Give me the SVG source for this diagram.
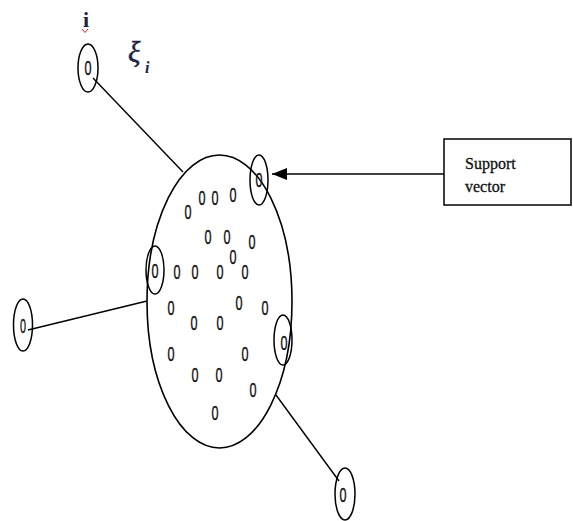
<svg xmlns="http://www.w3.org/2000/svg" width="573" height="521" viewBox="0 0 573 521">
  <defs>
    <marker id="arrowHead" markerWidth="16" markerHeight="12" refX="15" refY="6" orient="auto" markerUnits="userSpaceOnUse">
      <path d="M0,0 L15,6 L0,12 z" fill="#000"/>
    </marker>
  </defs>
  <style>
    .edge { stroke: #000; stroke-width: 1.4; fill: none; }
    .ring { fill: none; stroke: #000; stroke-width: 1.5; }
    .cluster { fill: #fff; stroke: #000; stroke-width: 1.6; }
    .pt { font-family: "Liberation Sans", Arial, sans-serif; font-size: 20px; text-anchor: middle; fill: #111; stroke: #111; stroke-width: 0.35; }
    .label { font-family: "Liberation Serif", "Times New Roman", serif; fill: #111; }
    .math { font-family: "Liberation Serif", "Times New Roman", serif; font-style: italic; fill: #1c1f4a; }
    .box { fill: #fff; stroke: #000; stroke-width: 1.5; }
  </style>

  <rect width="573" height="521" fill="#fff"/>

  <!-- labels -->
  <text x="86" y="27" class="label" style="font-size:22px;font-weight:bold;fill:#1c1f4a" text-anchor="middle">i</text>
  <path d="M82,29 L85,32.5 L88,29" fill="none" stroke="#e02020" stroke-width="1"/>
  <text x="128" y="62" class="math" style="font-size:29px;stroke:#1c1f4a;stroke-width:0.5">ξ</text>
  <text x="145" y="73" class="math" style="font-size:16px;font-weight:bold">i</text>

  <!-- connectors -->
  <g id="connectors">
    <line class="edge" x1="93" y1="78" x2="183" y2="172"/>
    <line class="edge" x1="28" y1="330" x2="147" y2="301"/>
    <line class="edge" x1="276" y1="395" x2="339" y2="481"/>
    <line class="edge" x1="444" y1="174" x2="272" y2="174" marker-end="url(#arrowHead)"/>
  </g>

  <!-- main cluster of points -->
  <g id="cluster">
    <ellipse class="cluster" cx="219.5" cy="301.5" rx="72.5" ry="146.5"/>
    <text class="pt" x="188" y="219" textLength="7" lengthAdjust="spacingAndGlyphs">0</text>
    <text class="pt" x="202" y="205" textLength="7" lengthAdjust="spacingAndGlyphs">0</text>
    <text class="pt" x="215" y="205" textLength="7" lengthAdjust="spacingAndGlyphs">0</text>
    <text class="pt" x="233" y="202" textLength="7" lengthAdjust="spacingAndGlyphs">0</text>
    <text class="pt" x="208" y="244" textLength="7" lengthAdjust="spacingAndGlyphs">0</text>
    <text class="pt" x="227" y="244" textLength="7" lengthAdjust="spacingAndGlyphs">0</text>
    <text class="pt" x="252" y="249" textLength="7" lengthAdjust="spacingAndGlyphs">0</text>
    <text class="pt" x="233" y="264" textLength="7" lengthAdjust="spacingAndGlyphs">0</text>
    <text class="pt" x="177" y="279" textLength="7" lengthAdjust="spacingAndGlyphs">0</text>
    <text class="pt" x="195" y="279" textLength="7" lengthAdjust="spacingAndGlyphs">0</text>
    <text class="pt" x="220" y="279" textLength="7" lengthAdjust="spacingAndGlyphs">0</text>
    <text class="pt" x="245" y="279" textLength="7" lengthAdjust="spacingAndGlyphs">0</text>
    <text class="pt" x="171" y="315" textLength="7" lengthAdjust="spacingAndGlyphs">0</text>
    <text class="pt" x="239" y="310" textLength="7" lengthAdjust="spacingAndGlyphs">0</text>
    <text class="pt" x="265" y="315" textLength="7" lengthAdjust="spacingAndGlyphs">0</text>
    <text class="pt" x="194" y="330" textLength="7" lengthAdjust="spacingAndGlyphs">0</text>
    <text class="pt" x="220" y="330" textLength="7" lengthAdjust="spacingAndGlyphs">0</text>
    <text class="pt" x="171" y="361" textLength="7" lengthAdjust="spacingAndGlyphs">0</text>
    <text class="pt" x="245" y="361" textLength="7" lengthAdjust="spacingAndGlyphs">0</text>
    <text class="pt" x="195" y="382" textLength="7" lengthAdjust="spacingAndGlyphs">0</text>
    <text class="pt" x="219" y="382" textLength="7" lengthAdjust="spacingAndGlyphs">0</text>
    <text class="pt" x="253" y="397" textLength="7" lengthAdjust="spacingAndGlyphs">0</text>
    <text class="pt" x="215" y="420" textLength="7" lengthAdjust="spacingAndGlyphs">0</text>
  </g>

  <!-- circled points -->
  <g id="nodeTopLeft">
    <ellipse class="ring" cx="88" cy="68" rx="10" ry="24"/>
    <text class="pt" x="88" y="75" textLength="7" lengthAdjust="spacingAndGlyphs">0</text>
  </g>
  <g id="nodeSupportTop">
    <ellipse class="ring" cx="259" cy="180" rx="9" ry="25"/>
    <text class="pt" x="259" y="187" textLength="7" lengthAdjust="spacingAndGlyphs">0</text>
  </g>
  <g id="nodeSupportLeft">
    <ellipse class="ring" cx="155" cy="270" rx="9" ry="24"/>
    <text class="pt" x="155" y="278" textLength="7" lengthAdjust="spacingAndGlyphs">0</text>
  </g>
  <g id="nodeFarLeft">
    <ellipse class="ring" cx="23" cy="325" rx="9.5" ry="26"/>
    <text class="pt" x="23" y="333" textLength="6" lengthAdjust="spacingAndGlyphs">0</text>
  </g>
  <g id="nodeSupportRight">
    <ellipse class="ring" cx="283" cy="340" rx="9" ry="25"/>
    <text class="pt" x="284" y="350" textLength="7" lengthAdjust="spacingAndGlyphs">0</text>
  </g>
  <g id="nodeBottomRight">
    <ellipse class="ring" cx="345" cy="494" rx="10" ry="26"/>
    <text class="pt" x="343" y="502" textLength="7" lengthAdjust="spacingAndGlyphs">0</text>
  </g>

  <!-- callout box -->
  <g id="supportVectorBox">
    <rect class="box" x="444" y="139" width="127" height="66"/>
    <text class="label" x="465" y="169" style="font-size:16px;stroke:#111;stroke-width:0.3">Support</text>
    <text class="label" x="465" y="192" style="font-size:16px;stroke:#111;stroke-width:0.3">vector</text>
  </g>
</svg>
